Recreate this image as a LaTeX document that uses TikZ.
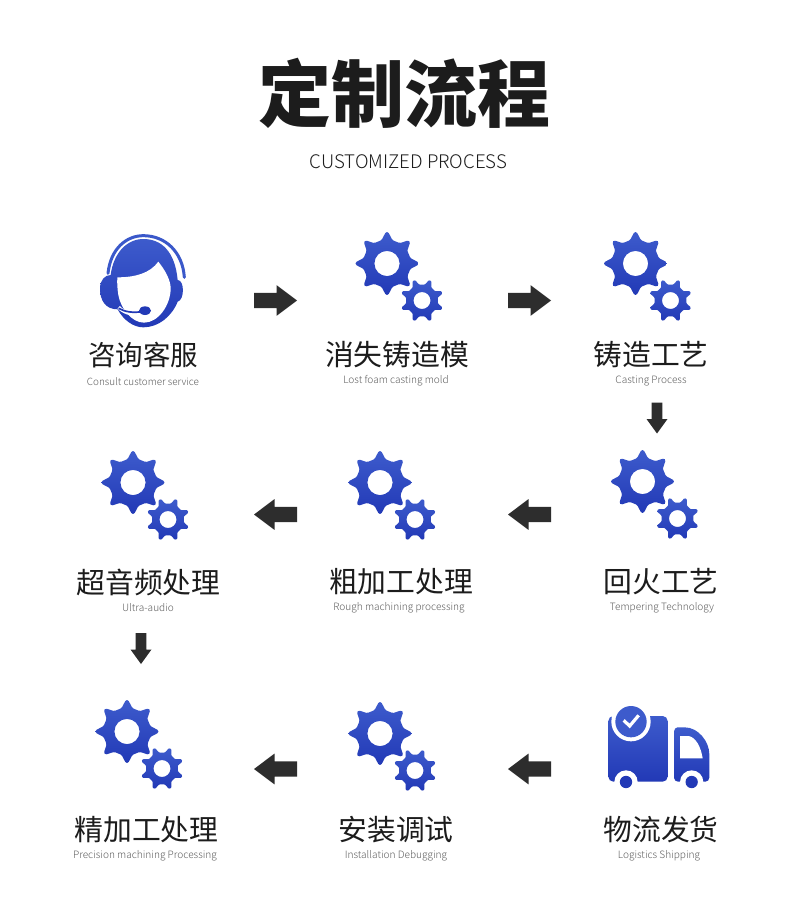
\documentclass[tikz,border=0pt]{standalone}
\usepackage{fontspec}
\setmainfont{Noto Sans CJK SC}
\newfontfamily\subfont{Noto Sans CJK SC Light}
\usetikzlibrary{positioning}
\definecolor{gtop}{HTML}{3D5BCC}
\definecolor{gbot}{HTML}{2239B6}
\definecolor{arrowc}{HTML}{2D2D2D}
\definecolor{subc}{HTML}{5E5E5E}
\definecolor{ink}{HTML}{1C1C1C}
\tikzset{
  x=1pt,y=-1pt,
  blueshade/.style={top color=gtop,bottom color=gbot,draw=none},
  cnlabel/.style={inner sep=0pt,text=ink,font=\fontsize{28.8}{30}\selectfont},
  enlabel/.style={inner sep=0pt,text=subc,font=\subfont\fontsize{10.1}{12}\selectfont},
  pics/blockarrow/.style={code={
    \fill[arrowc] (-21.5,-7.6) -- (1,-7.6) -- (1,-15.4) -- (21.5,0) -- (1,15.4) -- (1,7.6) -- (-21.5,7.6) -- cycle;
  }},
  pics/downarrow/.style={code={
    \fill[arrowc] (-5.3,-15.5) -- (5.3,-15.5) -- (5.3,1) -- (10.5,1) -- (0,15.5) -- (-10.5,1) -- (-5.3,1) -- cycle;
  }},
  pics/gearpair/.style={code={
    \shade[blueshade,even odd rule,rounded corners=1.2pt]
      (-32:24)
      \foreach \a in {0,45,...,315}{
        -- (\a-13:24) -- (\a-2.2:31.5) -- (\a+2.2:31.5) -- (\a+13:24)
      } -- cycle
      (0,0) circle[radius=12.6];
    \begin{scope}[shift={(35,37)}]
    \shade[blueshade,even odd rule,rounded corners=0.8pt]
      (-9.5:16)
      \foreach \a in {22.5,67.5,...,337.5}{
        -- (\a-13:16) -- (\a-3.5:21.5) -- (\a+3.5:21.5) -- (\a+13:16)
      } -- cycle
      (0,0) circle[radius=8.5];
    \end{scope}
  }},
}
\begin{document}
\begin{tikzpicture}
\useasboundingbox (0,0) rectangle (790,918);
\fill[white] (0,0) rectangle (790,918);

\node[inner sep=0pt,text=ink,font=\bfseries\fontsize{73}{75}\selectfont] (title) at (404.5,93.5) {定制流程};
\node[inner sep=0pt,text=ink,font=\subfont\fontsize{18.7}{20}\selectfont] (subtitle) at (408.5,161.5) {CUSTOMIZED PROCESS};

% headset
\begin{scope}[shift={(80,220)},scale=1/3]
  \draw[gtop!90!gbot,line width=3.0pt,line cap=round]
    (84,160) .. controls (92,85) and (140,47) .. (190,47) .. controls (255,47) and (308,95) .. (313,172);
  \shade[blueshade]
    (60,205) .. controls (60,180) and (75,165) .. (92,165)
    .. controls (100,100) and (140,57) .. (190,57)
    .. controls (245,57) and (285,95) .. (293,180)
    .. controls (314,180) and (314,240) .. (293,245)
    .. controls (275,290) and (235,322) .. (190,322)
    .. controls (160,322) and (130,300) .. (113,268)
    .. controls (75,268) and (60,240) .. (60,205) -- cycle;
  \fill[white]
    (112,172) .. controls (165,172) and (210,160) .. (235,125)
    .. controls (255,150) and (272,180) .. (272,205)
    .. controls (272,255) and (235,308) .. (192,308)
    .. controls (155,308) and (122,265) .. (115,225)
    .. controls (112,205) and (111,190) .. (112,172) -- cycle;
  \draw[white,line width=3.4pt] (116,262) .. controls (135,282) and (165,285) .. (190,283);
  \draw[gbot,line width=1.7pt] (116,265) .. controls (135,276) and (160,279) .. (185,275);
  \fill[gbot] (195,272) ellipse[x radius=18,y radius=13];
\end{scope}

% gears
\foreach \nm/\x/\y in {ga/387/263.5,gb/635.5/263.5,gc/642.5/481.5,gd/380/482.5,ge/133/482.5,gf/127/731.5,gg/380/733.5}{
  \pic (\nm) at (\x,\y) {gearpair};
}

% truck
\begin{scope}[shift={(590,690)},scale=1/3]
  \shade[blueshade,rounded corners=5pt]
    (55,78) -- (233,78) -- (233,275) -- (55,275) -- cycle;
  \shade[blueshade,rounded corners=4pt]
    (252,112) -- (272,112) .. controls (325,112) and (358,155) .. (358,205) -- (358,275) -- (252,275) -- cycle;
  \fill[white] (270,138) -- (296,138) .. controls (318,142) and (333,172) .. (338,205) -- (270,205) -- cycle;
  \fill[white] (123,95) circle[radius=59];
  \fill[gtop] (123,95) circle[radius=47];
  \draw[white,line width=3.2pt] (101,91) -- (119,108) -- (146,76);
  \fill[white] (108,276) circle[radius=35];
  \fill[gbot] (108,276) circle[radius=18.5];
  \fill[white] (305,276) circle[radius=35];
  \fill[gbot] (305,276) circle[radius=18.5];
\end{scope}

% block arrows
\pic (a1) at (275.5,300.5) {blockarrow};
\pic (a2) at (529.5,300.5) {blockarrow};
\pic (a3) at (657,418) {downarrow};
\pic[rotate=180] (a4) at (529.5,514.5) {blockarrow};
\pic[rotate=180] (a5) at (275.5,514.5) {blockarrow};
\pic (a6) at (141,648.5) {downarrow};
\pic[rotate=180] (a7) at (529.5,769) {blockarrow};
\pic[rotate=180] (a8) at (275.5,769) {blockarrow};

% labels
\node[cnlabel,font=\fontsize{27.5}{30}\selectfont] (c1) at (143,355) {咨询客服};
\node[enlabel,font=\subfont\fontsize{9.9}{12}\selectfont] (e1) at (143,381.8) {Consult customer service};
\node[cnlabel] (c2) at (397,355) {消失铸造模};
\node[enlabel] (e2) at (396,380.8) {Lost foam casting mold};
\node[cnlabel] (c3) at (651,355) {铸造工艺};
\node[enlabel] (e3) at (651,380.8) {Casting Process};
\node[cnlabel] (c4) at (661,582) {回火工艺};
\node[enlabel] (e4) at (662,607.8) {Tempering Technology};
\node[cnlabel] (c5) at (401,582) {粗加工处理};
\node[enlabel] (e5) at (399,607.8) {Rough machining processing};
\node[cnlabel] (c6) at (148.5,582) {超音频处理};
\node[enlabel] (e6) at (148,607.8) {Ultra-audio};
\node[cnlabel] (c7) at (146.5,830) {精加工处理};
\node[enlabel] (e7) at (145,855.8) {Precision machining Processing};
\node[cnlabel] (c8) at (396,830) {安装调试};
\node[enlabel] (e8) at (396,855.8) {Installation Debugging};
\node[cnlabel] (c9) at (661,830) {物流发货};
\node[enlabel] (e9) at (659,855.8) {Logistics Shipping};
\end{tikzpicture}
\end{document}
